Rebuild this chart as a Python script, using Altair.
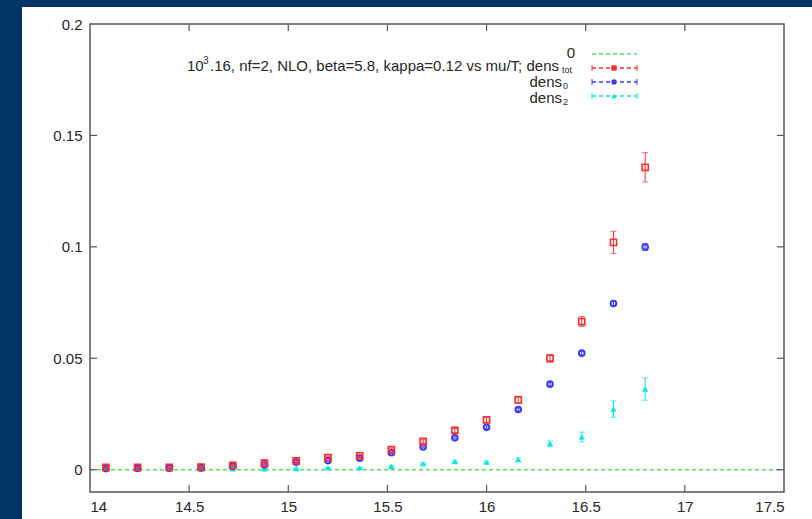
import altair as alt
import pandas as pd

# ---- data ----
mu_T = [14.08, 14.24, 14.40, 14.56, 14.72, 14.88, 15.04, 15.20, 15.36,
        15.52, 15.68, 15.84, 16.00, 16.16, 16.32, 16.48, 16.64, 16.80]
dens_tot = [0.0010, 0.0011, 0.0011, 0.0012, 0.0019, 0.0029, 0.0040, 0.0054, 0.0062,
            0.0090, 0.0127, 0.0176, 0.0224, 0.0313, 0.0500, 0.0665, 0.1020, 0.1357]
dens_tot_err = [0.0002, 0.0002, 0.0002, 0.0002, 0.0003, 0.0003, 0.0004, 0.0005, 0.0005,
                0.0006, 0.0007, 0.0009, 0.0011, 0.0016, 0.0017, 0.0022, 0.0050, 0.0066]
dens_0 = [0.0005, 0.0006, 0.0007, 0.0008, 0.0015, 0.0022, 0.0034, 0.0041, 0.0052,
          0.0076, 0.0102, 0.0143, 0.0190, 0.0270, 0.0384, 0.0523, 0.0746, 0.0999]
dens_0_err = [0.0001, 0.0001, 0.0001, 0.0001, 0.0001, 0.0002, 0.0002, 0.0002, 0.0003,
              0.0003, 0.0004, 0.0005, 0.0005, 0.0006, 0.0007, 0.0008, 0.0010, 0.0015]
dens_2 = [0.0003, 0.0003, 0.0003, 0.0003, 0.0004, 0.0004, 0.0005, 0.0008, 0.0008,
          0.0015, 0.0027, 0.0037, 0.0034, 0.0045, 0.0117, 0.0147, 0.0272, 0.0362]
dens_2_err = [0.0001, 0.0001, 0.0001, 0.0001, 0.0001, 0.0001, 0.0002, 0.0002, 0.0002,
              0.0003, 0.0004, 0.0005, 0.0005, 0.0008, 0.0012, 0.0022, 0.0037, 0.0050]

zero_x = [14.0, 17.5]
zero_y = [0.0, 0.0]

x_ticks = [14, 14.5, 15, 15.5, 16, 16.5, 17, 17.5]
y_ticks = [0, 0.05, 0.1, 0.15, 0.2]
x_inner_ticks = [14.5, 15, 15.5, 16, 16.5, 17]
y_inner_ticks = [0, 0.05, 0.1, 0.15]

# key labels: the dens_tot key label carries the run description
title_main = ".16, nf=2, NLO, beta=5.8, kappa=0.12 vs mu/T; dens"
legend_names = ["0", "dens", "dens", "dens"]
legend_subs = ["", "tot", "0", "2"]

RED = "#ff2a2a"
BLUE = "#3a3aff"
CYAN = "#00e8e8"
GREEN = "#55e055"
TEXT = "#262626"
FONT = "Liberation Sans"
FS = 15
SUB = 9

W, H = 694, 468
xs = alt.Scale(domain=[14, 17.5], nice=False, zero=False)
ys = alt.Scale(domain=[-0.01, 0.2], nice=False, zero=False)

one = pd.DataFrame({"k": [0]})


def series_df(y, e):
    return pd.DataFrame({"x": mu_T, "y": y,
                         "lo": [a - b for a, b in zip(y, e)],
                         "hi": [a + b for a, b in zip(y, e)]})


# white panel behind everything
panel = alt.Chart(one).mark_rect(color="white").encode(
    x=alt.value(-68), x2=alt.value(722), y=alt.value(-17), y2=alt.value(495))

# zero line
zero = alt.Chart(pd.DataFrame({"x": zero_x, "y": zero_y})).mark_line(
    color=GREEN, strokeDash=[4, 3], strokeWidth=1.5).encode(
    x=alt.X("x:Q", scale=xs,
            axis=alt.Axis(values=x_ticks, format="~g", domain=False, ticks=False,
                          grid=False, labelFont=FONT, labelFontSize=FS,
                          labelColor=TEXT, labelPadding=7, title=None, zindex=1)),
    y=alt.Y("y:Q", scale=ys,
            axis=alt.Axis(values=y_ticks, format="~g", domain=False, ticks=False,
                          grid=False, labelFont=FONT, labelFontSize=FS,
                          labelColor=TEXT, labelPadding=8, title=None, zindex=1)))


def series_layers(y, e, color, shape, filled, size, sw):
    df = series_df(y, e)
    base = alt.Chart(df)
    bar = base.mark_rule(color=color, strokeWidth=1).encode(
        x=alt.X("x:Q", scale=xs), y=alt.Y("lo:Q", scale=ys), y2="hi:Q")
    cap_lo = base.mark_tick(color=color, orient="horizontal", size=6, thickness=1).encode(
        x=alt.X("x:Q", scale=xs), y=alt.Y("lo:Q", scale=ys))
    cap_hi = base.mark_tick(color=color, orient="horizontal", size=6, thickness=1).encode(
        x=alt.X("x:Q", scale=xs), y=alt.Y("hi:Q", scale=ys))
    pts = base.mark_point(shape=shape, filled=filled, color=color, size=size,
                          strokeWidth=sw, opacity=1).encode(
        x=alt.X("x:Q", scale=xs), y=alt.Y("y:Q", scale=ys))
    return [bar, cap_lo, cap_hi, pts]


layers = [panel, zero]
layers += series_layers(dens_2, dens_2_err, CYAN, "triangle-up", True, 38, 1)
layers += series_layers(dens_0, dens_0_err, BLUE, "circle", False, 32, 2)
layers += series_layers(dens_tot, dens_tot_err, RED, "square", False, 38, 1.6)

# frame
frame = alt.Chart(one).mark_rect(fillOpacity=0, stroke="#555555", strokeWidth=1.5).encode(
    x=alt.value(0), x2=alt.value(W), y=alt.value(0), y2=alt.value(H))
layers.append(frame)

# inward ticks (gnuplot style, mirrored)
ytk = pd.DataFrame({"v": y_inner_ticks})
xtk = pd.DataFrame({"v": x_inner_ticks})
tick_style = dict(color="#555555", strokeWidth=1.2)
layers.append(alt.Chart(ytk).mark_rule(**tick_style).encode(
    y=alt.Y("v:Q", scale=ys), x=alt.value(0), x2=alt.value(7)))
layers.append(alt.Chart(ytk).mark_rule(**tick_style).encode(
    y=alt.Y("v:Q", scale=ys), x=alt.value(W - 7), x2=alt.value(W)))
layers.append(alt.Chart(xtk).mark_rule(**tick_style).encode(
    x=alt.X("v:Q", scale=xs), y=alt.value(H - 7), y2=alt.value(H)))
layers.append(alt.Chart(xtk).mark_rule(**tick_style).encode(
    x=alt.X("v:Q", scale=xs), y=alt.value(0), y2=alt.value(7)))


def txt(s, x, y, align="left", size=FS):
    return alt.Chart(one).mark_text(align=align, baseline="middle", font=FONT,
                                    fontSize=size, color=TEXT).encode(
        x=alt.value(x), y=alt.value(y), text=alt.value(s))


# key rows (page y 54,68,82,96 -> plot y 30,44,58,72)
row_y = [30, 44, 58, 72]
row_text_y = [29, 42, 57.5, 73.5]
row_col = [GREEN, RED, BLUE, CYAN]
row_shape = [None, "square", "circle", "triangle-up"]

layers.append(txt(legend_names[0], 485, row_text_y[0], align="right"))
# row 1: long description + dens_tot
layers.append(txt("10", 97, row_text_y[1]))
layers.append(txt("3", 113, row_text_y[1] - 5, size=10))
layers.append(txt(title_main, 120, row_text_y[1]))
layers.append(txt(legend_subs[1], 472, row_text_y[1] + 4, size=SUB))
for i in (2, 3):
    layers.append(txt(legend_names[i], 472, row_text_y[i], align="right"))
    layers.append(txt(legend_subs[i], 473, row_text_y[i] + 4, size=SUB))

for i in range(4):
    layers.append(alt.Chart(one).mark_rule(color=row_col[i], strokeDash=[4, 3],
                                           strokeWidth=1.3).encode(
        x=alt.value(502), x2=alt.value(547), y=alt.value(row_y[i])))
    if row_shape[i]:
        for cx in (502, 547):
            layers.append(alt.Chart(one).mark_rule(color=row_col[i], strokeWidth=1).encode(
                x=alt.value(cx), y=alt.value(row_y[i] - 3), y2=alt.value(row_y[i] + 3)))
        layers.append(alt.Chart(one).mark_point(shape=row_shape[i], filled=True,
                                                color=row_col[i], size=28, opacity=1).encode(
            x=alt.value(524), y=alt.value(row_y[i])))

chart = alt.layer(*layers).properties(
    width=W, height=H,
    autosize=alt.AutoSizeParams(type="none"),
    padding={"left": 90, "top": 24, "right": 28, "bottom": 27},
    background="#003366",
).configure_view(stroke="transparent")

chart.save("out.html", embed_options={"renderer": "svg", "actions": False})
